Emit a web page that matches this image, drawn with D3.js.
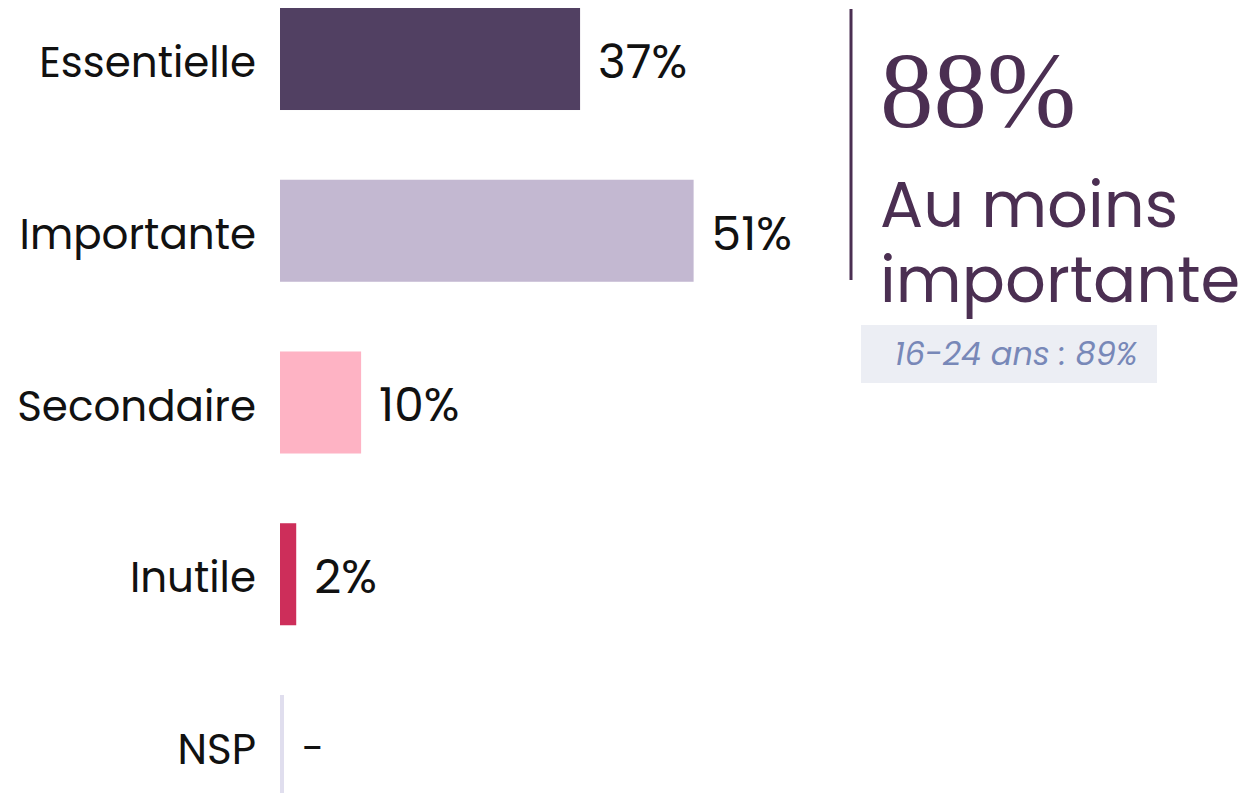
<!DOCTYPE html>
<html>
<head>
<meta charset="utf-8">
<script src="https://cdn.jsdelivr.net/npm/d3@7"></script>
<style>
  html, body { margin: 0; padding: 0; background: #fff; }
  svg { display: block; }
</style>
</head>
<body>
<svg id="chart" width="1249" height="793"></svg>
<script>
// données
const categories = ["Essentielle", "Importante", "Secondaire", "Inutile", "NSP"];
const values = [37, 51, 10, 2, null];
const valueLabels = ["37%", "51%", "10%", "2%", "-"];
const colors = ["#514062", "#c3b8d1", "#feb3c4", "#cd2e5a", "#e0deee"];
const bigNumber = "88%";
const bigLabel = ["Au moins", "importante"];
const subLabel = "16-24 ans : 89%";

const svg = d3.select("#chart");
const sans = "Poppins, 'DejaVu Sans', sans-serif";

const y = d3.scaleBand()
    .domain(categories)
    .range([8, 797])
    .paddingInner(0.406)
    .paddingOuter(0);

const x = d3.scaleLinear()
    .domain([0, 100])
    .range([280, 1091]);

const rows = categories.map((c, i) => ({cat: c, v: values[i], label: valueLabels[i], color: colors[i]}));

// barres
svg.append("g")
    .selectAll("rect")
    .data(rows)
    .enter().append("rect")
    .attr("x", x(0))
    .attr("y", d => y(d.cat))
    .attr("width", d => d.v == null ? 4 : x(d.v) - x(0))
    .attr("height", y.bandwidth())
    .attr("fill", d => d.color);

// libellés des catégories
svg.append("g")
    .selectAll("text")
    .data(rows)
    .enter().append("text")
    .attr("x", 256)
    .attr("y", d => y(d.cat) + y.bandwidth() / 2)
    .attr("dy", "0.43em")
    .attr("text-anchor", "end")
    .style("font", `42px ${sans}`)
    .style("fill", "#111")
    .text(d => d.cat);

// valeurs
svg.append("g")
    .selectAll("text")
    .data(rows)
    .enter().append("text")
    .attr("x", d => (d.v == null ? x(0) + 4 : x(d.v)) + 18)
    .attr("y", d => y(d.cat) + y.bandwidth() / 2)
    .attr("dy", "0.4em")
    .style("font", d => d.v == null ? `40px ${sans}` : `47px ${sans}`)
    .style("fill", "#111")
    .text(d => d.label);

// encadré à droite
const purple = "#4b2f52";
svg.append("line")
    .attr("x1", 851).attr("x2", 851)
    .attr("y1", 9).attr("y2", 280)
    .attr("stroke", purple)
    .attr("stroke-width", 3);

svg.append("text")
    .attr("x", 880)
    .attr("y", 127)
    .style("font", "107px 'Liberation Serif', 'DejaVu Serif', serif")
    .style("fill", purple)
    .text(bigNumber);

svg.append("g")
    .selectAll("text")
    .data(bigLabel)
    .enter().append("text")
    .attr("x", 880)
    .attr("y", (d, i) => 227 + i * 75)
    .style("font", `64px ${sans}`)
    .style("fill", purple)
    .text(d => d);

svg.append("rect")
    .attr("x", 861).attr("y", 325)
    .attr("width", 296).attr("height", 58)
    .attr("fill", "#eceef4");

svg.append("text")
    .attr("x", 1016)
    .attr("y", 365)
    .attr("text-anchor", "middle")
    .style("font", `italic 32px ${sans}`)
    .style("fill", "#7888b8")
    .text(subLabel);
</script>
</body>
</html>
